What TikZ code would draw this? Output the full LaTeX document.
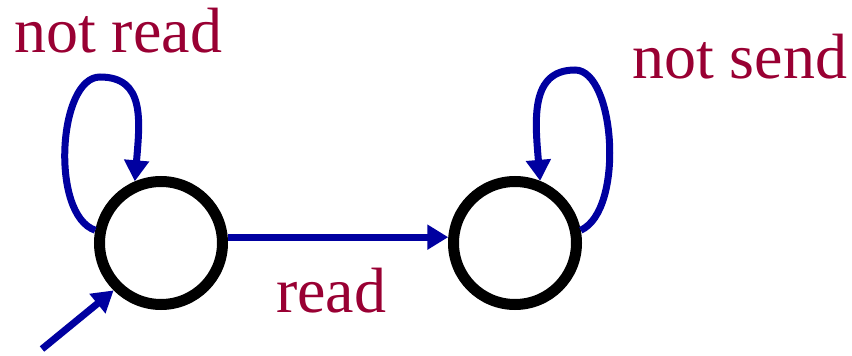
\documentclass[tikz,border=0pt]{standalone}
\usepackage{fontspec}
\setmainfont{Liberation Serif}
\usetikzlibrary{arrows.meta}
\definecolor{edgeblue}{RGB}{0,0,160}
\definecolor{labelred}{RGB}{153,0,51}
\tikzset{
  state/.style={circle, draw=black, line width=11pt, minimum size=123pt, inner sep=0pt},
  trans/.style={draw=edgeblue, line width=7pt, -{Triangle[length=21pt,width=24pt]}},
  lbl/.style={text=labelred, font=\fontsize{64pt}{70pt}\selectfont, inner sep=0pt, anchor=base west}
}
\begin{document}
\begin{tikzpicture}[x=1pt,y=-1pt]
\useasboundingbox (0,0) rectangle (852,356);
\node[state] (L) at (161,243) {};
\node[state] (R) at (515,243) {};
\coordinate (start) at (42,349);
\coordinate (ltop) at (100,77);
\coordinate (rtop) at (575,70);
\node[lbl] (t1) at (14,52) {not read};
\node[lbl] (t2) at (632,78) {not send};
\node[lbl] (t3) at (276,312) {read};
\draw[trans] (L.169) .. controls (50,215) and (58,77) .. (ltop) .. controls (145,77) and (140,120) .. (L.113);
\draw[trans] (R.11) .. controls (625,210) and (615,70) .. (rtop) .. controls (530,70) and (535,120) .. (R.68);
\draw[trans] (L.5) -- (R.175);
\draw[trans] (start) -- (L.225);
\end{tikzpicture}
\end{document}
